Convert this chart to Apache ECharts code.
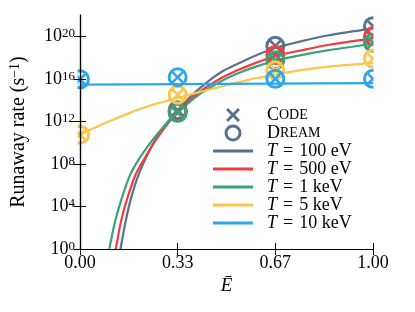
<!DOCTYPE html>
<html>
<head>
<meta charset="utf-8">
<script src="https://cdn.jsdelivr.net/npm/echarts@6/dist/echarts.min.js"></script>
<style>html,body{margin:0;padding:0;background:#fff}#c{width:415px;height:312px}</style>
</head>
<body>
<div id="c"></div>
<script>
// ---------- data (y values are log10 of runaway rate in s^-1) ----------
const tempLabels = ['100 eV', '500 eV', '1 keV', '5 keV', '10 keV'];

const curveE_100eV = [0.125,0.138,0.155,0.173,0.20,0.24,0.28,0.333,0.38,0.43,0.48,0.537,0.60,0.667,0.75,0.85,1.0];
const curveR_100eV = [-1.8,0,2.5,4.64,7.0,9.4,11.3,13.0,14.4,15.6,16.6,17.4,18.2,18.9,19.5,20.1,20.75];

const curveE_500eV = [0.11,0.122,0.14,0.16,0.19,0.22,0.26,0.30,0.333,0.40,0.465,0.537,0.60,0.667,0.75,0.85,1.0];
const curveR_500eV = [-1.8,0,2.6,4.64,7.0,8.5,10.3,11.8,12.9,14.6,15.8,16.8,17.5,18.15,18.65,19.2,19.8];

const curveE_1keV = [0.088,0.10,0.12,0.141,0.17,0.20,0.23,0.27,0.333,0.40,0.48,0.537,0.60,0.667,0.75,0.85,1.0];
const curveR_1keV = [-1.8,0,2.6,4.64,6.9,8.4,9.6,11.0,12.8,14.4,15.75,16.5,17.15,17.7,18.2,18.7,19.3];

const curveE_5keV = [0,0.05,0.112,0.17,0.225,0.28,0.333,0.40,0.47,0.537,0.60,0.667,0.75,0.85,1.0];
const curveR_5keV = [10.75,11.4,12.15,12.8,13.35,13.8,14.2,14.7,15.2,15.65,16.05,16.4,16.8,17.15,17.5];

const curveE_10keV = [0,0.333,0.667,1.0];
const curveR_10keV = [15.46,15.5,15.55,15.6];

const markerE = [0, 1/3, 2/3, 1];
const code_100eV  = [null, 13.05, 19.1, 20.95];
const code_500eV  = [null, 12.9, 18.25, 20.0];
const code_1keV   = [null, 12.8, 17.75, 19.4];
const code_5keV   = [10.75, 14.5, 16.8, 17.9];
const code_10keV  = [15.95, 16.15, 16.0, 16.0];

const dream_100eV = [null, 13.05, 19.1, 20.95];
const dream_500eV = [null, 12.9, 18.25, 20.0];
const dream_1keV  = [null, 12.8, 17.75, 19.4];
const dream_5keV  = [10.75, 14.5, 16.8, 17.9];
const dream_10keV = [15.95, 16.15, 16.0, 16.0];

const xTicks = [0, 1/3, 2/3, 1];
const xTickLabels = ['0.00', '0.33', '0.67', '1.00'];
const yTicks = [0, 4, 8, 12, 16, 20];

// ---------- styling ----------
const colors = ['#58728f', '#f23d40', '#39a37b', '#fbc64c', '#2ea6ec'];
const FONT = 'Liberation Serif';
const X_PATH = 'M0,3L3,0L10,7L17,0L20,3L13,10L20,17L17,20L10,13L3,20L0,17L7,10Z';
const LINE_ICON = 'path://M0,0H40V3H0Z';
const GRID = { left: 78, top: 15, width: 295, height: 234 };
const W = 415, H = 312;

const curvesE = [curveE_100eV, curveE_500eV, curveE_1keV, curveE_5keV, curveE_10keV];
const curvesR = [curveR_100eV, curveR_500eV, curveR_1keV, curveR_5keV, curveR_10keV];
const codes = [code_100eV, code_500eV, code_1keV, code_5keV, code_10keV];
const dreams = [dream_100eV, dream_500eV, dream_1keV, dream_5keV, dream_10keV];

function pairs(xs, ys) {
  const out = [];
  for (let i = 0; i < xs.length; i++) if (ys[i] !== null) out.push([xs[i], ys[i]]);
  return out;
}

const series = [];
tempLabels.forEach((t, i) => {
  series.push({
    type: 'line', name: t, data: pairs(curvesE[i], curvesR[i]),
    symbol: 'none', smooth: 0.3, clip: true, z: 2,
    lineStyle: { color: colors[i], width: 2.2 }, itemStyle: { color: colors[i] }
  });
});
tempLabels.forEach((t, i) => {
  const c = colors[i];
  series.push({
    type: 'custom', name: 'Code', data: pairs(markerE, codes[i]), z: 3,
    itemStyle: { color: c },
    encode: { x: 0, y: 1 },
    renderItem: function (params, api) {
      const p = api.coord([api.value(0), api.value(1)]);
      const s = 12;
      return { type: 'path',
               shape: { pathData: X_PATH, x: p[0] - s / 2, y: p[1] - s / 2, width: s, height: s, layout: 'cover' },
               style: { fill: c } };
    }
  });
  series.push({
    type: 'custom', name: 'Dream', data: pairs(markerE, dreams[i]), z: 3,
    itemStyle: { color: c },
    encode: { x: 0, y: 1 },
    renderItem: function (params, api) {
      const p = api.coord([api.value(0), api.value(1)]);
      return { type: 'circle',
               shape: { cx: p[0], cy: p[1], r: 8.5 },
               style: { fill: 'none', stroke: c, lineWidth: 3 } };
    }
  });
});

// white masks outside the plotting box (markers are clipped to the axes box)
const gl = GRID.left, gt = GRID.top, gr = GRID.left + GRID.width, gb = GRID.top + GRID.height;
const masks = [
  { x: 0, y: 0, width: gl - 0.5, height: H },
  { x: gr + 0.5, y: 0, width: W - gr, height: H },
  { x: 0, y: 0, width: W, height: gt - 0.5 },
  { x: 0, y: gb + 0.5, width: W, height: H - gb }
].map(s => ({ type: 'rect', z: 6, silent: true, shape: s, style: { fill: '#fff' } }));

const axisLineStyle = { lineStyle: { color: '#000', width: 1.2 } };
const chart = echarts.init(document.getElementById('c'), null, { renderer: 'canvas' });
chart.setOption({
  animation: false,
  backgroundColor: '#fff',
  grid: GRID,
  graphic: masks,
  xAxis: [
    {
      type: 'value', min: 0, max: 1, position: 'bottom', z: 10,
      axisLine: axisLineStyle,
      axisTick: { inside: true, length: 6, customValues: xTicks, lineStyle: { color: '#000', width: 1 } },
      axisLabel: { customValues: xTicks, margin: 5, color: '#000', fontFamily: FONT, fontSize: 18,
        formatter: v => xTickLabels[xTicks.findIndex(t => Math.abs(t - v) < 1e-6)] },
      splitLine: { show: false },
      name: 'Ē', nameLocation: 'middle', nameGap: 26,
      nameTextStyle: { fontFamily: FONT, fontSize: 19, fontStyle: 'italic', color: '#000' }
    },
    {
      type: 'value', min: 0, max: 1, position: 'top', z: 10,
      axisLine: axisLineStyle,
      axisTick: { inside: true, length: 6, customValues: xTicks, lineStyle: { color: '#000', width: 1 } },
      axisLabel: { show: false }, splitLine: { show: false }
    }
  ],
  yAxis: [
    {
      type: 'value', min: 0, max: 22, position: 'left', z: 10,
      axisLine: axisLineStyle,
      axisTick: { inside: true, length: 6, customValues: yTicks, lineStyle: { color: '#000', width: 1 } },
      axisLabel: {
        customValues: yTicks, margin: 5, color: '#000',
        formatter: v => '{b|10}{s|' + v + '}',
        rich: {
          b: { fontFamily: FONT, fontSize: 18, lineHeight: 18, color: '#000', verticalAlign: 'bottom' },
          s: { fontFamily: FONT, fontSize: 13, lineHeight: 12, color: '#000', verticalAlign: 'top' }
        }
      },
      splitLine: { show: false },
      name: 'Runaway rate (s{sup|−1})', nameLocation: 'middle', nameGap: 50, nameRotate: 90,
      nameTextStyle: {
        fontFamily: FONT, fontSize: 20, color: '#000', lineHeight: 22,
        rich: {
          sup: { fontFamily: FONT, fontSize: 14, color: '#000', lineHeight: 14, verticalAlign: 'top' }
        }
      }
    },
    {
      type: 'value', min: 0, max: 22, position: 'right', z: 10,
      axisLine: axisLineStyle,
      axisTick: { inside: true, length: 6, customValues: yTicks, lineStyle: { color: '#000', width: 1 } },
      axisLabel: { show: false }, splitLine: { show: false }
    }
  ],
  legend: {
    orient: 'vertical', left: 213, top: 106, padding: 0, itemGap: 0,
    itemWidth: 40, itemHeight: 14, selectedMode: false,
    data: [
      { name: 'Code', icon: 'path://' + X_PATH, itemStyle: { color: colors[0], borderWidth: 0 } },
      { name: 'Dream', icon: 'circle', itemStyle: { color: 'rgba(0,0,0,0)', borderColor: colors[0], borderWidth: 3 } }
    ].concat(tempLabels.map((t, i) => ({ name: t, icon: LINE_ICON, itemStyle: { color: colors[i], borderWidth: 0 } }))),
    formatter: function (name) {
      if (name === 'Code') return '{sc|C}{scs|ODE}';
      if (name === 'Dream') return '{sc|D}{scs|REAM}';
      return '{it|T}{eq|=}{n|' + name + '}';
    },
    textStyle: {
      padding: [0, 0, 0, 9], lineHeight: 18, fontFamily: FONT, fontSize: 18, color: '#000',
      rich: {
        sc: { fontFamily: FONT, fontSize: 18, lineHeight: 18, color: '#000' },
        scs: { fontFamily: FONT, fontSize: 14, lineHeight: 18, color: '#000' },
        it: { fontFamily: FONT, fontSize: 18, lineHeight: 18, fontStyle: 'italic', color: '#000' },
        eq: { fontFamily: FONT, fontSize: 18, lineHeight: 18, color: '#000', padding: [0, 6, 0, 6] },
        n: { fontFamily: FONT, fontSize: 18, lineHeight: 18, color: '#000' }
      }
    }
  },
  series: series
});
</script>
</body>
</html>
